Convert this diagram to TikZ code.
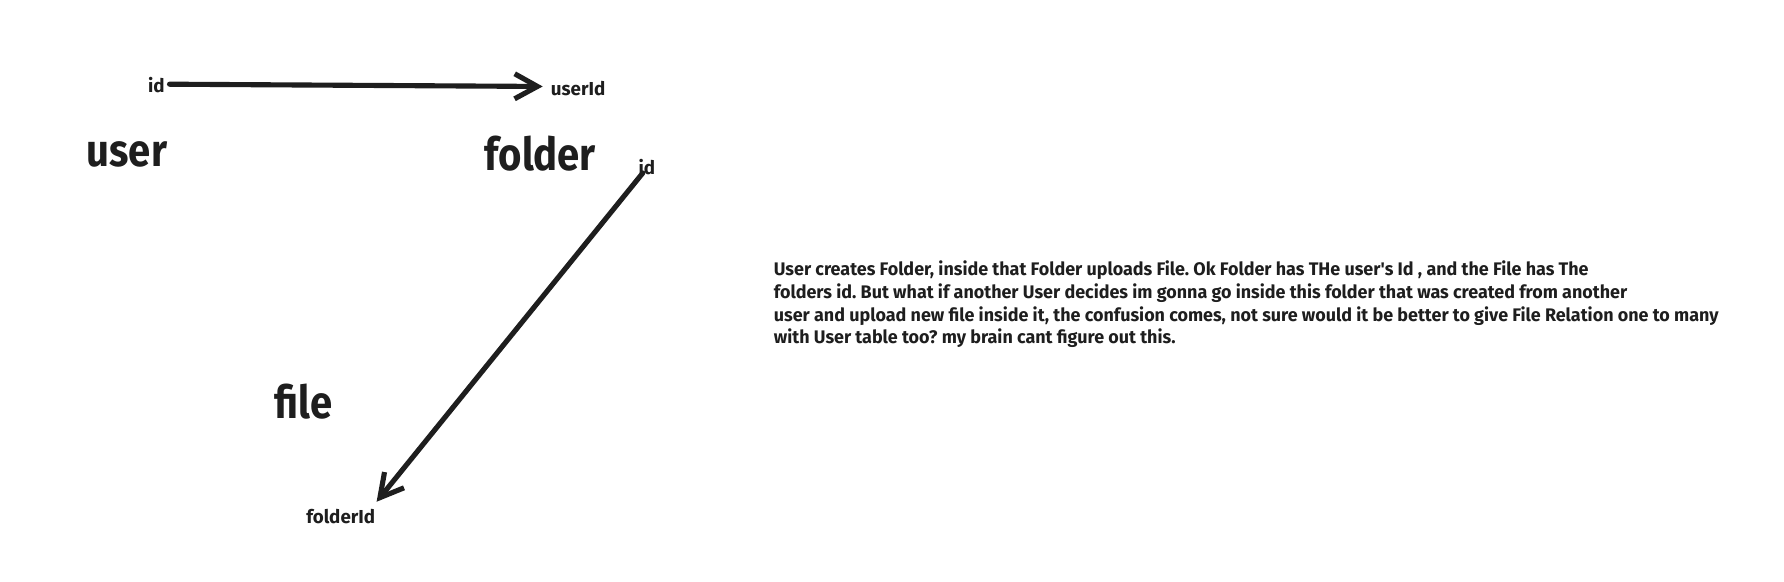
\documentclass[tikz,border=0pt]{standalone}
\usepackage{fontspec}
\setmainfont{Fira Sans}
\newfontfamily\bigfont{Fira Sans}[FakeStretch=0.88]
\newfontfamily\parafont{Fira Sans}[FakeStretch=0.985]
\usetikzlibrary{arrows.meta}
\definecolor{ink}{HTML}{1E1E1E}
\tikzset{
  lbl/.style={font=\bfseries\fontsize{16.5}{18}\selectfont, text=ink, inner sep=0pt},
  big/.style={font=\bigfont\bfseries\fontsize{40}{42}\selectfont, text=ink, inner sep=0pt},
  para/.style={font=\parafont\bfseries\fontsize{16}{20}\selectfont\frenchspacing, text=ink, inner sep=0pt, align=left},
  conn/.style={draw=ink, line width=4.5pt, line cap=round, -{Straight Barb[length=20pt,width=22pt,line width=4.5pt]}}
}
\begin{document}
\begin{tikzpicture}[x=1pt,y=-1pt]
\useasboundingbox[fill=white] (0,0) rectangle (1568,511);
\node[lbl, anchor=west] (uid) at (130,75) {id};
\node[lbl, anchor=west] (fuid) at (484,78) {userId};
\node[big, anchor=west] (user) at (76,136) {user};
\node[big, anchor=west] (folder) at (426,135) {folder};
\node[lbl, anchor=west] (fid) at (561,147) {id};
\node[big, anchor=west] (file) at (241,353) {file};
\node[lbl, anchor=west] (ffid) at (269,454) {folderId};
\coordinate (a1) at (149,74);
\coordinate (a2) at (477,76);
\coordinate (b1) at (565,152);
\coordinate (b2) at (331,441);
\draw[conn] (a1) -- (a2);
\draw[conn] (b1) -- (b2);
\node[para, anchor=north west] (txt) at (680,229) {User creates Folder, inside that Folder uploads File. Ok Folder has THe user\char"27 s Id , and the File has The\\
folders id. But what if another User decides im gonna go inside this folder that was created from another\\
user and upload new file inside it, the confusion comes, not sure would it be better to give File Relation one to many\\
with User table too? my brain cant figure out this.};
\end{tikzpicture}
\end{document}
